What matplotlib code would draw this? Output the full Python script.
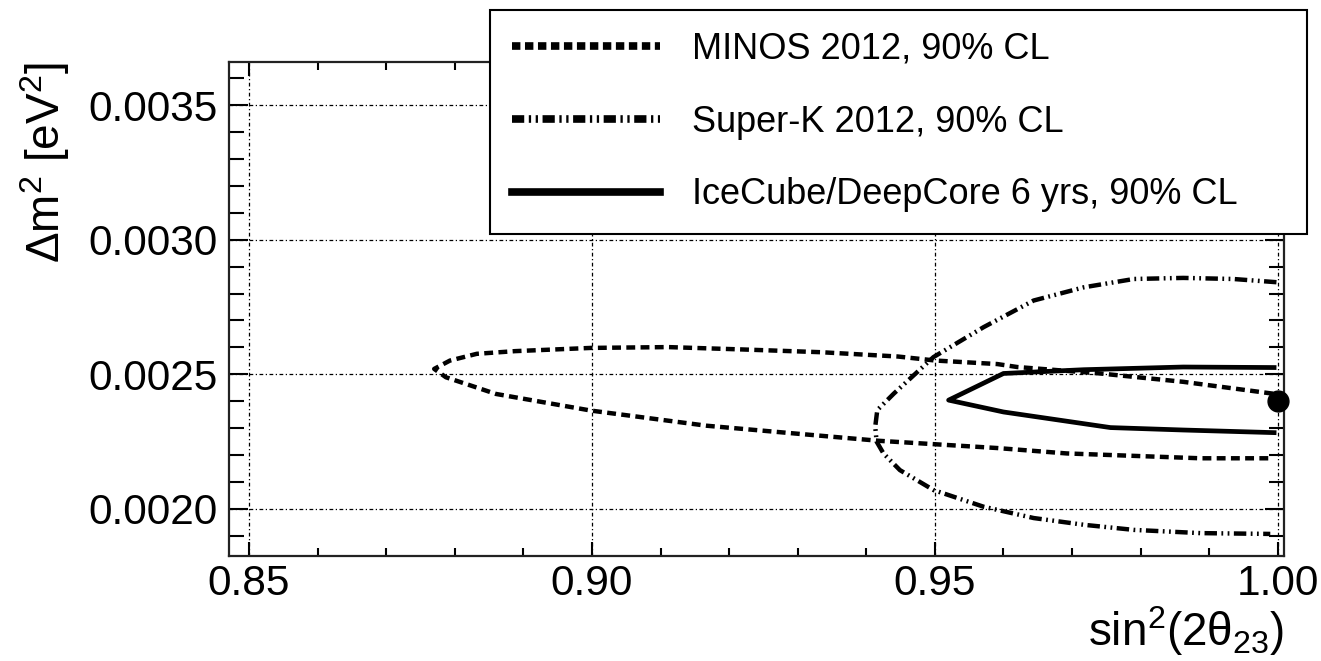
import matplotlib
matplotlib.use("Agg")
import matplotlib.pyplot as plt
from matplotlib.lines import Line2D
from matplotlib.ticker import MultipleLocator, FixedLocator

plt.rcParams['font.family'] = ['Liberation Sans', 'DejaVu Sans']
plt.rcParams['mathtext.fontset'] = 'custom'
plt.rcParams['mathtext.rm'] = 'Liberation Sans'
plt.rcParams['mathtext.it'] = 'Liberation Sans:italic'

# MINOS 2012 90% CL contour (open at sin^2 = 1)
minos_x = [0.9993, 0.9862, 0.9741, 0.9620, 0.9591, 0.9501, 0.9446, 0.9334, 0.9222,
           0.9111, 0.8999, 0.8888, 0.8832, 0.8793, 0.8770, 0.8787, 0.8860, 0.8999,
           0.9167, 0.9278, 0.9418, 0.9501, 0.9591, 0.9692, 0.9887, 0.9993]
minos_y = [0.002428, 0.002472, 0.002503, 0.002527, 0.002538, 0.002551, 0.002566,
           0.002582, 0.002592, 0.002601, 0.002598, 0.002586, 0.002576, 0.002551,
           0.002520, 0.002489, 0.002427, 0.002365, 0.002309, 0.002284, 0.002253,
           0.002240, 0.002226, 0.002206, 0.002188, 0.002188]

# Super-K 2012 90% CL contour
superk_x = [0.9998, 0.9935, 0.9862, 0.9790, 0.9717, 0.9644, 0.9571, 0.9498, 0.9440,
            0.9416, 0.9413, 0.9415, 0.9425, 0.9449, 0.9498, 0.9571, 0.9644, 0.9717,
            0.9790, 0.9887, 0.9989]
superk_y = [0.002842, 0.002854, 0.002858, 0.002854, 0.002823, 0.002774, 0.002675,
            0.002564, 0.002428, 0.002367, 0.002305, 0.002250, 0.002206, 0.002144,
            0.002070, 0.002008, 0.001966, 0.001941, 0.001922, 0.001910, 0.001907]

# IceCube/DeepCore 6 yrs 90% CL contour
icecube_x = [0.9998, 0.9862, 0.9717, 0.9600, 0.9520, 0.9600, 0.9756, 0.9862, 0.9998]
icecube_y = [0.002525, 0.002527, 0.002517, 0.002503, 0.002404, 0.002360, 0.002302,
             0.002293, 0.002283]

# best fit
best_x = [1.0]
best_y = [0.0024]

labels = ["MINOS 2012, 90% CL", "Super-K 2012, 90% CL",
          "IceCube/DeepCore 6 yrs, 90% CL"]

minos_ls = (0, (2.0, 1.2))
superk_ls = (0, (2.8, 1.0, 0.4, 1.0, 0.4, 1.0))

fig = plt.figure(figsize=(13.21, 6.61), dpi=100)
ax = fig.add_axes([229/1321, 1 - 556/661, (1284 - 229)/1321, (556 - 62)/661])

ax.plot(minos_x, minos_y, color='k', lw=3.2, linestyle=minos_ls)
ax.plot(superk_x, superk_y, color='k', lw=3.2, linestyle=superk_ls)
ax.plot(icecube_x, icecube_y, color='k', lw=3.4, solid_capstyle='butt')
ax.plot(best_x, best_y, 'o', color='k', ms=15, clip_on=False, zorder=5)

ax.set_xlim(0.84708, 1.0009)
ax.set_ylim(0.001825, 0.00366)

ax.xaxis.set_major_locator(FixedLocator([0.85, 0.90, 0.95, 1.00]))
ax.xaxis.set_minor_locator(MultipleLocator(0.01))
ax.yaxis.set_major_locator(FixedLocator([0.0020, 0.0025, 0.0030, 0.0035]))
ax.yaxis.set_minor_locator(MultipleLocator(0.0001))
ax.set_xticklabels(["0.85", "0.90", "0.95", "1.00"])
ax.set_yticklabels(["0.0020", "0.0025", "0.0030", "0.0035"])

ax.grid(True, which='major', color='k', lw=0.9, linestyle=(0, (3, 2, 1, 2)))

ax.tick_params(which='both', direction='in', top=True, right=True,
               labelsize=30.5, colors='k', width=1.5)
ax.tick_params(axis='x', which='major', length=10, pad=6)
ax.tick_params(axis='x', which='minor', length=6)
ax.tick_params(axis='y', which='major', length=14, pad=8)
ax.tick_params(axis='y', which='minor', length=11)
for s in ax.spines.values():
    s.set_linewidth(1.6)
    s.set_color('#222222')

ax.set_xlabel('sin$^{2}$(2θ$_{23}$)', fontsize=33, loc='right', labelpad=0)
ax.set_ylabel('Δm$^{2}$ [eV$^{2}$]', fontsize=33, loc='top', labelpad=12)

handles = [
    Line2D([], [], color='k', lw=5.5, linestyle=(0, (1.1, 0.6))),
    Line2D([], [], color='k', lw=5.5, linestyle=(0, (1.6, 0.6, 0.3, 0.6, 0.3, 0.6))),
    Line2D([], [], color='k', lw=5.5),
]
leg_top = 1 - 10/661
leg = ax.legend(handles, labels, loc='upper left',
                bbox_to_anchor=(490/1321, leg_top - 0.1, (1307 - 490)/1321, 0.1),
                bbox_transform=fig.transFigure, mode='expand',
                fontsize=26, frameon=True, fancybox=False, framealpha=1,
                edgecolor='k', handlelength=4.1, handletextpad=0.9,
                labelspacing=1.05, borderpad=0.6, borderaxespad=0)
leg.get_frame().set_linewidth(1.5)
leg.set_zorder(10)

fig.savefig("out.png", dpi=100)
